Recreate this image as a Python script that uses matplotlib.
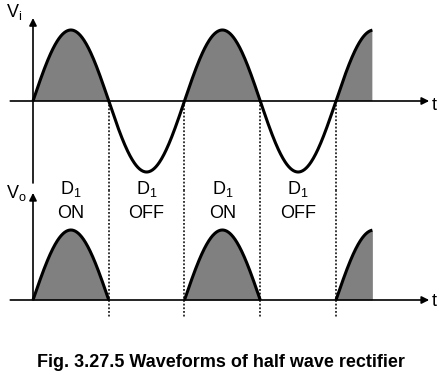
import numpy as np
import matplotlib.pyplot as plt

plt.rcParams['font.family'] = ['Liberation Sans', 'DejaVu Sans']
plt.rcParams['mathtext.fontset'] = 'custom'
plt.rcParams['mathtext.rm'] = 'Liberation Sans'
plt.rcParams['mathtext.it'] = 'Liberation Sans'

# Data (time in half-periods, voltage in units of peak)
crossings = [0, 1, 2, 3, 4]          # zero crossings of the input
t_end = 4.48                          # where the drawing stops
v_peak_in = 1.0
v_peak_out = 1.0
diode_x = [0.5, 1.5, 2.5, 3.5]
diode_state = ['ON', 'OFF', 'ON', 'OFF']
caption = "Fig. 3.27.5 Waveforms of half wave rectifier"

fill_col = '#808080'
xlim = (-33 / 75.75, (447 - 33) / 75.75)

fig = plt.figure(figsize=(4.47, 3.80), dpi=100)
ax_in = fig.add_axes([0, 1 - 190 / 380, 1, 190 / 380])
ax_out = fig.add_axes([0, 0, 1, 190 / 380])
ax_in.set_xlim(xlim)
ax_in.set_ylim(-89 / 71, 101 / 71)
ax_out.set_xlim(xlim)
ax_out.set_ylim(-80 / 70, 110 / 70)
for ax in (ax_in, ax_out):
    ax.axis('off')

arrow = dict(arrowstyle='-|>', lw=1.2, color='black', mutation_scale=11,
             shrinkA=0, shrinkB=0)
fs = 13
sub = '$_\\mathregular{%s}$'

# input waveform
t = np.linspace(crossings[0], t_end, 600)
v_in = v_peak_in * np.sin(np.pi * t)
ax_in.fill_between(t, v_in, 0, where=v_in >= 0, color=fill_col, lw=0)
ax_in.plot(t, v_in, color='black', lw=2.2, solid_capstyle='butt', zorder=3)
ax_in.annotate('', xy=(5.23, 0), xytext=(-0.30, 0), arrowprops=arrow)
ax_in.annotate('', xy=(0, 83 / 71), xytext=(0, -82 / 71), arrowprops=arrow)
ax_in.text(-0.36, 1.183, 'V' + sub % 'i', fontsize=fs, ha='left', va='baseline')
ax_in.text(5.26, -0.12, 't', fontsize=fs, ha='left', va='baseline')

# output waveform: positive halves only
for k in range(0, len(crossings), 2):
    a = crossings[k]
    b = min(a + 1, t_end)
    tt = np.linspace(a, b, 200)
    vv = v_peak_out * np.sin(np.pi * tt)
    ax_out.fill_between(tt, vv, 0, color=fill_col, lw=0)
    ax_out.plot(tt, vv, color='black', lw=2.2, solid_capstyle='butt', zorder=3)
ax_out.annotate('', xy=(5.23, 0), xytext=(-0.30, 0), arrowprops=arrow)
ax_out.annotate('', xy=(0, 1.53), xytext=(0, 0), arrowprops=arrow)
ax_out.text(-0.36, 1.457, 'V' + sub % 'o', fontsize=fs, ha='left', va='baseline')
ax_out.text(5.26, -0.08, 't', fontsize=fs, ha='left', va='baseline')

for x, s in zip(diode_x, diode_state):
    ax_out.text(x, 1.514, 'D' + sub % '1', fontsize=fs, ha='center', va='baseline')
    ax_out.text(x, 1.171, s, fontsize=fs, ha='center', va='baseline')

# dotted markers at crossings
for c in crossings[1:]:
    ax_in.plot([c, c], [0, -89 / 71], color='black', lw=1.1,
               ls=(0, (1.2, 1.2)), zorder=1, clip_on=False)
    ax_out.plot([c, c], [110 / 70, -0.26], color='black', lw=1.1,
                ls=(0, (1.2, 1.2)), zorder=1, clip_on=False)

fig.text(0.495, 1 - 367 / 380, caption, fontsize=13, fontweight='bold',
         ha='center', va='baseline')

fig.savefig('out.png', dpi=100)
